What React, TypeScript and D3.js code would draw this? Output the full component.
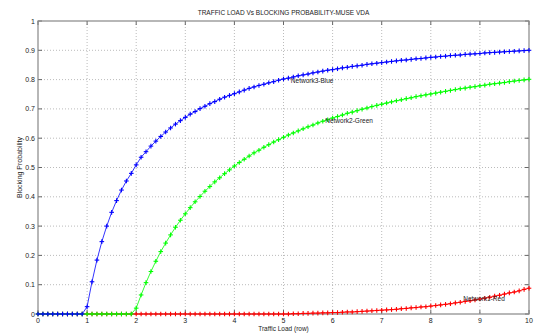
import React, { useEffect, useRef } from "react";
import * as d3 from "d3";

const title = "TRAFFIC LOAD Vs BLOCKING PROBABILITY-MUSE VDA";
const xLabel = "Traffic Load (row)";
const yLabel = "Blocking Probability";
const xTicks = [0, 1, 2, 3, 4, 5, 6, 7, 8, 9, 10];
const yTicks = [0, 0.1, 0.2, 0.3, 0.4, 0.5, 0.6, 0.7, 0.8, 0.9, 1];

// Network3-Blue, x = 0.0 .. 10.0 step 0.1
const blue = [
  0, 0, 0, 0, 0, 0, 0, 0, 0, 0,
  0.025, 0.11, 0.184, 0.247, 0.3, 0.347, 0.387, 0.423, 0.454, 0.48,
  0.509, 0.535, 0.554, 0.573, 0.59, 0.606, 0.621, 0.635, 0.648, 0.66,
  0.671, 0.682, 0.691, 0.701, 0.709, 0.718, 0.725, 0.733, 0.74, 0.746,
  0.752, 0.758, 0.764, 0.77, 0.775, 0.78, 0.784, 0.789, 0.793, 0.798,
  0.802, 0.805, 0.809, 0.813, 0.816, 0.819, 0.823, 0.826, 0.829, 0.832,
  0.834, 0.837, 0.84, 0.842, 0.845, 0.847, 0.849, 0.852, 0.854, 0.856,
  0.858, 0.86, 0.862, 0.864, 0.866, 0.867, 0.869, 0.871, 0.872, 0.874,
  0.876, 0.877, 0.879, 0.88, 0.882, 0.883, 0.884, 0.886, 0.887, 0.888,
  0.889, 0.891, 0.892, 0.893, 0.894, 0.895, 0.896, 0.897, 0.898, 0.899,
  0.9,
];

// Network2-Green
const green = [
  0, 0, 0, 0, 0, 0, 0, 0, 0, 0,
  0, 0, 0, 0, 0, 0, 0, 0, 0, 0,
  0.02, 0.065, 0.107, 0.145, 0.18, 0.213, 0.242, 0.27, 0.296, 0.32,
  0.342, 0.363, 0.383, 0.401, 0.419, 0.435, 0.451, 0.465, 0.479, 0.492,
  0.505, 0.517, 0.528, 0.539, 0.55, 0.559, 0.569, 0.578, 0.587, 0.595,
  0.603, 0.611, 0.618, 0.625, 0.632, 0.639, 0.645, 0.652, 0.658, 0.663,
  0.669, 0.674, 0.679, 0.685, 0.689, 0.694, 0.699, 0.703, 0.708, 0.712,
  0.716, 0.72, 0.724, 0.728, 0.731, 0.735, 0.738, 0.742, 0.745, 0.748,
  0.751, 0.754, 0.757, 0.76, 0.763, 0.766, 0.769, 0.771, 0.774, 0.776,
  0.779, 0.781, 0.784, 0.786, 0.788, 0.79, 0.793, 0.795, 0.797, 0.799,
  0.801,
];

// Network1-Red
const red = [
  0, 0, 0, 0, 0, 0, 0, 0, 0, 0,
  0, 0, 0, 0, 0, 0, 0, 0, 0, 0,
  0, 0, 0, 0, 0, 0, 0, 0, 0, 0,
  0, 0, 0, 0, 0, 0, 0, 0, 0, 0,
  0, 0, 0, 0, 0, 0, 0, 0, 0, 0,
  0, 0, 0.001, 0.001, 0.002, 0.002, 0.003, 0.003, 0.004, 0.004,
  0.005, 0.005, 0.006, 0.007, 0.007, 0.008, 0.009, 0.01, 0.011, 0.012,
  0.013, 0.014, 0.015, 0.016, 0.018, 0.019, 0.021, 0.022, 0.024, 0.025,
  0.027, 0.029, 0.031, 0.033, 0.035, 0.038, 0.04, 0.043, 0.045, 0.048,
  0.051, 0.054, 0.057, 0.061, 0.064, 0.068, 0.072, 0.075, 0.079, 0.084,
  0.088,
];

const seriesNames = ["Network1-Red", "Network2-Green", "Network3-Blue"];
const seriesColors = ["#ff0000", "#00ff00", "#0000ff"];
const seriesValues = [red, green, blue];
const labelAnchors = [
  { x: 8.66, y: 0.045 },
  { x: 5.85, y: 0.652 },
  { x: 5.15, y: 0.79 },
];

const W = 541;
const H = 333;
const left = 38;
const right = 529;
const top = 21;
const bottom = 314;

export default function App() {
  const ref = useRef<SVGSVGElement>(null);

  useEffect(() => {
    const svg = d3.select(ref.current);
    svg.selectAll("*").remove();
    const x = d3.scaleLinear().domain([0, 10]).range([left, right]);
    const y = d3.scaleLinear().domain([0, 1]).range([bottom, top]);
    const font = "Arial, 'Liberation Sans', sans-serif";

    svg.append("rect").attr("width", W).attr("height", H).attr("fill", "#fff");

    // grid
    const g = svg.append("g");
    xTicks.slice(1, -1).forEach((t) => {
      g.append("line")
        .attr("x1", x(t)).attr("x2", x(t))
        .attr("y1", top).attr("y2", bottom)
        .attr("stroke", "#aaa").attr("stroke-width", 0.8)
        .attr("stroke-dasharray", "1,2");
    });
    yTicks.slice(1, -1).forEach((t) => {
      g.append("line")
        .attr("x1", left).attr("x2", right)
        .attr("y1", y(t)).attr("y2", y(t))
        .attr("stroke", "#aaa").attr("stroke-width", 0.8)
        .attr("stroke-dasharray", "1,2");
    });

    // ticks (inward, all four sides)
    const tl = 4;
    xTicks.forEach((t) => {
      g.append("line").attr("x1", x(t)).attr("x2", x(t)).attr("y1", bottom).attr("y2", bottom - tl).attr("stroke", "#666");
      g.append("line").attr("x1", x(t)).attr("x2", x(t)).attr("y1", top).attr("y2", top + tl).attr("stroke", "#666");
    });
    yTicks.forEach((t) => {
      g.append("line").attr("x1", left).attr("x2", left + tl).attr("y1", y(t)).attr("y2", y(t)).attr("stroke", "#666");
      g.append("line").attr("x1", right).attr("x2", right - tl).attr("y1", y(t)).attr("y2", y(t)).attr("stroke", "#666");
    });

    // box
    svg.append("rect")
      .attr("x", left).attr("y", top)
      .attr("width", right - left).attr("height", bottom - top)
      .attr("fill", "none").attr("stroke", "#888").attr("stroke-width", 1.2);

    // tick labels
    xTicks.forEach((t) => {
      svg.append("text").attr("x", x(t)).attr("y", bottom + 9)
        .attr("text-anchor", "middle").attr("font-family", font)
        .attr("font-size", 7).attr("fill", "#222").text(String(t));
    });
    yTicks.forEach((t) => {
      svg.append("text").attr("x", left - 3).attr("y", y(t) + 2.5)
        .attr("text-anchor", "end").attr("font-family", font)
        .attr("font-size", 7).attr("fill", "#222").text(String(t));
    });

    // series
    seriesValues.forEach((vals, si) => {
      const pts = vals.map((v, i) => [i / 10, v] as [number, number]);
      const line = d3.line<[number, number]>().x((d) => x(d[0])).y((d) => y(d[1]));
      svg.append("path").attr("d", line(pts) || "")
        .attr("fill", "none").attr("stroke", seriesColors[si]).attr("stroke-width", 0.8);
      const m = svg.append("g").attr("stroke", seriesColors[si]).attr("stroke-width", 1.1);
      pts.forEach((p) => {
        const cx = x(p[0]);
        const cy = y(p[1]);
        m.append("line").attr("x1", cx - 2.3).attr("x2", cx + 2.3).attr("y1", cy).attr("y2", cy);
        m.append("line").attr("x1", cx).attr("x2", cx).attr("y1", cy - 2.3).attr("y2", cy + 2.3);
      });
    });

    // series labels
    seriesNames.forEach((n, si) => {
      svg.append("text").attr("x", x(labelAnchors[si].x)).attr("y", y(labelAnchors[si].y))
        .attr("font-family", font).attr("font-size", 6.5).attr("fill", "#222").text(n);
    });

    // titles
    svg.append("text").attr("x", (left + right) / 2).attr("y", 15)
      .attr("text-anchor", "middle").attr("font-family", font)
      .attr("font-size", 6.5).attr("fill", "#222").text(title);
    svg.append("text").attr("x", (left + right) / 2).attr("y", 331)
      .attr("text-anchor", "middle").attr("font-family", font)
      .attr("font-size", 6.5).attr("fill", "#222").text(xLabel);
    svg.append("text")
      .attr("transform", `translate(22,${(top + bottom) / 2}) rotate(-90)`)
      .attr("text-anchor", "middle").attr("font-family", font)
      .attr("font-size", 7).attr("fill", "#222").text(yLabel);
  }, []);

  return (
    <div style={{ position: "fixed", left: 0, top: 0 }}>
      <svg ref={ref} width={W} height={H} style={{ display: "block" }} />
    </div>
  );
}
